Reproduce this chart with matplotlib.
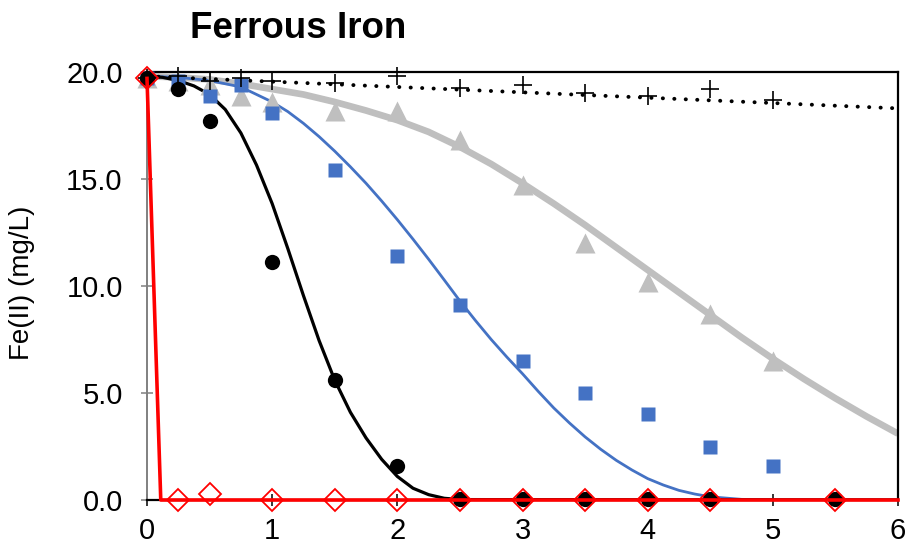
import numpy as np
import matplotlib.pyplot as plt

plt.rcParams['font.family'] = ['Liberation Sans', 'DejaVu Sans']

# measured Fe(II) concentrations (mg/L) vs time
t_circle = [0, 0.25, 0.5, 1, 1.5, 2, 2.5, 3, 3.5, 4, 4.5, 5.5]
fe_circle = [19.7, 19.2, 17.7, 11.1, 5.6, 1.6, 0.05, 0.05, 0.05, 0.05, 0.05, 0.05]

t_square = [0, 0.25, 0.5, 0.75, 1, 1.5, 2, 2.5, 3, 3.5, 4, 4.5, 5]
fe_square = [19.7, 19.6, 18.9, 19.4, 18.1, 15.4, 11.4, 9.1, 6.5, 5.0, 4.0, 2.5, 1.6]

t_tri = [0, 0.25, 0.5, 0.75, 1, 1.5, 2, 2.5, 3, 3.5, 4, 4.5, 5]
fe_tri = [19.7, 19.6, 19.4, 18.9, 18.6, 18.2, 18.2, 16.8, 14.7, 12.0, 10.2, 8.7, 6.5]

t_plus = [0, 0.25, 0.5, 0.75, 1, 1.5, 2, 2.5, 3, 3.5, 4, 4.5, 5]
fe_plus = [19.7, 19.8, 19.6, 19.7, 19.6, 19.5, 19.8, 19.25, 19.4, 19.0, 18.9, 19.2, 18.7]

t_diam = [0, 0.25, 0.5, 1, 1.5, 2, 2.5, 3, 3.5, 4, 4.5, 5.5]
fe_diam = [19.7, 0, 0.3, 0, 0, 0, 0, 0, 0, 0, 0, 0]

# model curves
t_fit_black = [0, 0.125, 0.25, 0.375, 0.5, 0.625, 0.75, 0.875, 1.0, 1.125, 1.25,
               1.375, 1.5, 1.625, 1.75, 1.875, 2.0, 2.125, 2.25, 2.375, 2.5, 6]
fe_fit_black = [19.8, 19.75, 19.6, 19.35, 18.95, 18.25, 17.15, 15.65, 13.85, 11.75, 9.55,
                7.45, 5.6, 4.1, 2.9, 1.9, 1.1, 0.55, 0.25, 0.08, 0.02, 0.0]

t_fit_blue = [0, 0.25, 0.5, 0.75, 1.0, 1.125, 1.25, 1.375, 1.5, 1.625, 1.75, 1.875,
              2.0, 2.125, 2.25, 2.375, 2.5, 2.625, 2.75, 2.875, 3.0, 3.125, 3.25,
              3.375, 3.5, 3.625, 3.75, 3.875, 4.0, 4.125, 4.25, 4.375, 4.5, 4.75, 5.0, 6]
fe_fit_blue = [19.8, 19.75, 19.6, 19.3, 18.6, 18.15, 17.6, 16.98, 16.3, 15.57, 14.8, 13.97,
               13.1, 12.19, 11.25, 10.28, 9.3, 8.38, 7.5, 6.68, 5.9, 5.08, 4.3,
               3.6, 2.95, 2.37, 1.85, 1.4, 1.0, 0.7, 0.45, 0.28, 0.15, 0.03, 0.0, 0.0]

t_fit_gray = [0, 0.25, 0.5, 0.75, 1.0, 1.25, 1.5, 1.75, 2.0, 2.25, 2.5, 2.75, 3.0,
              3.25, 3.5, 3.75, 4.0, 4.25, 4.5, 4.75, 5.0, 5.25, 5.5, 5.75, 6.0]
fe_fit_gray = [19.8, 19.75, 19.65, 19.45, 19.2, 18.95, 18.6, 18.2, 17.75, 17.2, 16.5, 15.7, 14.8,
               13.85, 12.85, 11.8, 10.75, 9.7, 8.65, 7.6, 6.6, 5.65, 4.75, 3.9, 3.1]

t_fit_dot = [0, 6]
fe_fit_dot = [19.8, 18.3]

t_fit_red = [0, 0.11, 6]
fe_fit_red = [19.7, 0, 0]

blue = '#4472c4'
gray = '#bfbfbf'
red = '#ff0000'

fig = plt.figure(figsize=(9.09, 5.46), dpi=100)
ax = fig.add_axes([147 / 909, 1 - 500 / 546, 751 / 909, 428 / 546])

ax.plot(t_fit_gray, fe_fit_gray, color=gray, lw=4.8, solid_capstyle='butt',
        solid_joinstyle='round', zorder=2)
ax.plot(t_fit_blue, fe_fit_blue, color=blue, lw=2.0, solid_joinstyle='round', zorder=2)
ax.plot(t_fit_black, fe_fit_black, color='black', lw=2.3, solid_joinstyle='round', zorder=2)
ax.plot(t_fit_dot, fe_fit_dot, color='black', lw=2.8, linestyle=(0, (0.05, 2.9)),
        dash_capstyle='round', zorder=2)

ax.plot(t_tri, fe_tri, '^', color=gray, ms=15, mec='none', zorder=3, clip_on=False)
ax.plot(t_square, fe_square, 's', color=blue, ms=10.5, mec='none', zorder=3, clip_on=False)
ax.plot(t_circle, fe_circle, 'o', color='black', ms=11, mec='none', zorder=4, clip_on=False)
ax.plot(t_plus, fe_plus, '+', color='black', ms=13, mew=1.2, zorder=5, clip_on=False)

ax.plot(t_fit_red, fe_fit_red, color=red, lw=2.6, zorder=6, clip_on=False)
ax.plot(t_diam, fe_diam, 'D', mfc='none', mec=red, ms=11, mew=1.3, zorder=7, clip_on=False)

ax.set_xlim(0, 6)
ax.set_ylim(0, 20)
ax.set_xticks(range(0, 7))
ax.set_yticks([0, 5, 10, 15, 20])
ax.set_yticklabels([f'{v:.1f}' for v in [0, 5, 10, 15, 20]])

for side in ['top', 'right', 'bottom']:
    ax.spines[side].set_color('black')
    ax.spines[side].set_linewidth(1.6)
ax.spines['left'].set_color('#808080')
ax.spines['left'].set_linewidth(1.4)

ax.tick_params(axis='x', direction='inout', length=9, width=1.1, color='black',
               labelsize=21, pad=8)
ax.tick_params(axis='y', direction='inout', length=9, width=1.1, color='#808080',
               labelsize=21, pad=13)

ax.set_ylabel('Fe(II) (mg/L)', fontsize=20)
ax.yaxis.set_label_coords(-0.149, 0.507)
fig.text(298 / 909, 1 - 29 / 546, 'Ferrous Iron', fontsize=26.5, fontweight='bold',
         ha='center', va='center')

fig.savefig('out.png', dpi=100)
